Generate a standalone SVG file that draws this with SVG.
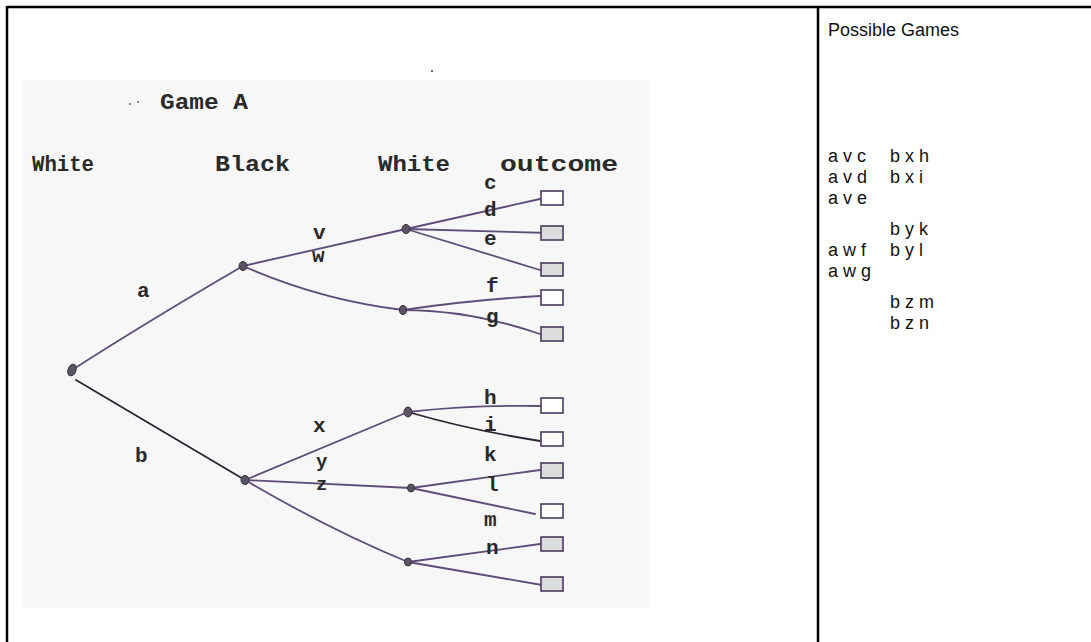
<svg xmlns="http://www.w3.org/2000/svg" width="1091" height="642" viewBox="0 0 1091 642">
<style>
.border{stroke:#000;stroke-width:2.5;fill:none}
.tw{font-family:"Liberation Mono","DejaVu Sans Mono",monospace;font-weight:bold;fill:#2a2a2a}
.hdr{font-size:22px}
.lbl{font-size:21px}
.sm{font-size:19px}
.edge{stroke:#5e4d78;stroke-width:1.8;fill:none;stroke-linecap:round}
.dk{stroke:#2b2433}
.node{fill:#5a5560;stroke:#3a3340;stroke-width:1}
.box{stroke:#4a3a60;stroke-width:1.6;fill:#fff}
.spk{fill:#dcdcdc}
.txt{font-family:"Liberation Sans",Arial,sans-serif;font-size:18px;fill:#111}
</style>
<rect width="1091" height="642" fill="#fff"/>
<g id="table">
<line class="border" x1="7" y1="7" x2="1091" y2="7"/>
<line class="border" x1="7" y1="6" x2="7" y2="642"/>
<line class="border" x1="818" y1="6" x2="818" y2="642"/>
</g>
<g id="scan">
<rect x="22" y="80" width="628" height="528" fill="#f7f7f7"/>
<circle cx="432" cy="71" r="1" fill="#333"/>
<circle cx="130" cy="104" r="1" fill="#666"/>
<circle cx="138" cy="102" r="1" fill="#666"/>
<text class="tw hdr" x="160" y="109" textLength="88" lengthAdjust="spacingAndGlyphs">Game A</text>
<text class="tw hdr" x="32" y="171" textLength="62" lengthAdjust="spacingAndGlyphs">White</text>
<text class="tw hdr" x="215" y="171" textLength="75" lengthAdjust="spacingAndGlyphs">Black</text>
<text class="tw hdr" x="378" y="171" textLength="72" lengthAdjust="spacingAndGlyphs">White</text>
<text class="tw hdr" x="500" y="171" textLength="118" lengthAdjust="spacingAndGlyphs">outcome</text>
</g>
<g id="connectors">
<path class="edge" d="M72,370 Q150,320 243,266"/>
<path class="edge dk" d="M76,380 Q160,430 245,480"/>
<path class="edge" d="M243,266 L406,229"/>
<path class="edge" d="M243,266 Q320,300 403,310"/>
<path class="edge" d="M406,229 L540,199"/>
<path class="edge" d="M406,229 L550,233"/>
<path class="edge" d="M406,229 L540,270"/>
<path class="edge" d="M403,310 Q470,300 540,296"/>
<path class="edge" d="M403,310 Q470,310 540,334"/>
<path class="edge" d="M245,480 L408,412"/>
<path class="edge" d="M245,480 L411,488"/>
<path class="edge" d="M245,480 Q330,530 408,562"/>
<path class="edge" d="M408,412 Q470,405 540,406"/>
<path class="edge dk" d="M408,412 Q470,430 540,441"/>
<path class="edge" d="M411,488 L540,470"/>
<path class="edge" d="M411,488 L535,514"/>
<path class="edge" d="M408,562 L540,544"/>
<path class="edge" d="M408,562 L542,585"/>
</g>
<g id="root"><ellipse class="node" cx="72" cy="370" rx="4" ry="6" transform="rotate(20 72 370)"/></g>
<g id="node-a"><ellipse class="node" cx="243" cy="266" rx="4" ry="4.5"/><text class="tw lbl" x="137" y="297">a</text></g>
<g id="node-b"><ellipse class="node" cx="245" cy="480" rx="4" ry="4.5"/><text class="tw lbl" x="135" y="462">b</text></g>
<g id="node-v"><ellipse class="node" cx="406" cy="229" rx="4" ry="4.5"/><text class="tw lbl" x="313" y="239">v</text></g>
<g id="node-w"><ellipse class="node" cx="403" cy="310" rx="3.5" ry="4.5"/><text class="tw lbl" x="312" y="262">w</text></g>
<g id="node-x"><ellipse class="node" cx="408" cy="412" rx="4" ry="5"/><text class="tw lbl" x="313" y="432">x</text></g>
<g id="node-y"><ellipse class="node" cx="411" cy="488" rx="3.5" ry="4"/><text class="tw sm" x="316" y="467">y</text></g>
<g id="node-z"><ellipse class="node" cx="408" cy="562" rx="3.5" ry="4"/><text class="tw sm" x="316" y="490">z</text></g>
<g id="out-c"><rect class="box" x="541" y="191" width="22" height="14"/><text class="tw lbl" x="484" y="189">c</text></g>
<g id="out-d"><rect class="box spk" x="541" y="226" width="22" height="14"/><text class="tw lbl" x="484" y="216">d</text></g>
<g id="out-e"><rect class="box spk" x="541" y="263" width="22" height="13"/><text class="tw lbl" x="484" y="245">e</text></g>
<g id="out-f"><rect class="box" x="541" y="290" width="22" height="15"/><text class="tw lbl" x="486" y="292">f</text></g>
<g id="out-g"><rect class="box spk" x="541" y="327" width="22" height="14"/><text class="tw lbl" x="486" y="323">g</text></g>
<g id="out-h"><rect class="box" x="541" y="398" width="22" height="15"/><text class="tw lbl" x="484" y="404">h</text></g>
<g id="out-i"><rect class="box" x="541" y="432" width="22" height="14"/><text class="tw lbl" x="484" y="431">i</text></g>
<g id="out-k"><rect class="box spk" x="541" y="463" width="22" height="15"/><text class="tw lbl" x="484" y="461">k</text></g>
<g id="out-l"><rect class="box" x="541" y="504" width="22" height="14"/><text class="tw lbl" x="486" y="491">l</text></g>
<g id="out-m"><rect class="box spk" x="541" y="537" width="22" height="14"/><text class="tw lbl" x="484" y="526">m</text></g>
<g id="out-n"><rect class="box spk" x="541" y="577" width="22" height="14"/><text class="tw lbl" x="486" y="554">n</text></g>
<g id="possible-games">
<text class="txt" x="828" y="36">Possible Games</text>
<text class="txt" x="828" y="162">a v c<tspan x="890">b x h</tspan></text>
<text class="txt" x="828" y="183">a v d<tspan x="890">b x i</tspan></text>
<text class="txt" x="828" y="204">a v e</text>
<text class="txt" x="890" y="235">b y k</text>
<text class="txt" x="828" y="256">a w f<tspan x="890">b y l</tspan></text>
<text class="txt" x="828" y="277">a w g</text>
<text class="txt" x="890" y="308">b z m</text>
<text class="txt" x="890" y="329">b z n</text>
</g>
</svg>
